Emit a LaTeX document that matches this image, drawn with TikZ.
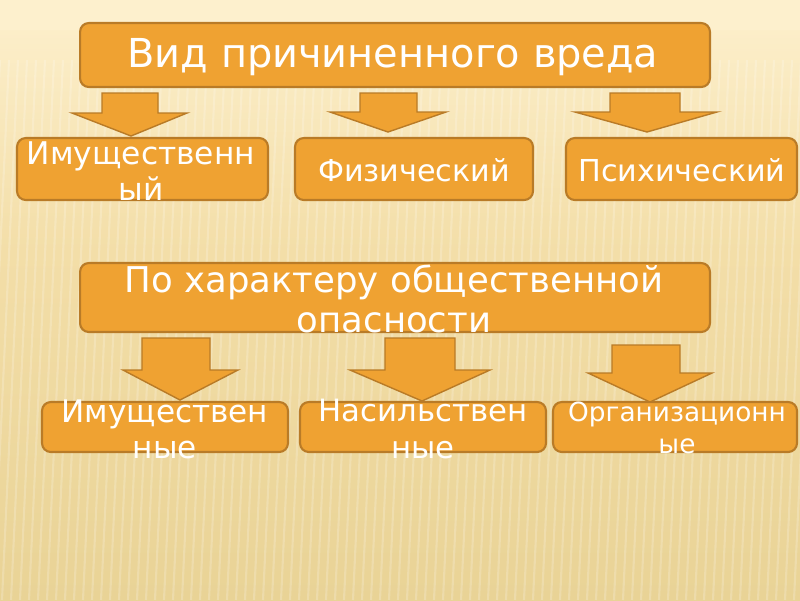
\documentclass[tikz,border=0pt]{standalone}
\usepackage{fontspec}
\setmainfont{DejaVu Sans}
\definecolor{boxfill}{HTML}{EFA232}
\definecolor{boxline}{HTML}{B97B27}
\definecolor{bgtop}{HTML}{FDF0CD}
\definecolor{bgmid}{HTML}{F3DEA8}
\definecolor{bgbot}{HTML}{E9D396}
\tikzset{
  box/.style={draw=boxline,line width=1.2pt,fill=boxfill,rounded corners=5pt,inner sep=0pt},
  boxtext/.style={text=white,align=center,inner sep=0pt},
  blockarrow/.style={draw=boxline,line width=0.8pt,fill=boxfill,line join=miter}
}
\begin{document}
\begin{tikzpicture}[x=0.02cm,y=-0.02cm]
      % background
      \useasboundingbox (0,0) rectangle (800,600);
      \shade[top color=bgtop,bottom color=bgmid] (0,0) rectangle (800,250);
      \shade[top color=bgmid,bottom color=bgbot] (0,250) rectangle (800,600);
      \fill[bgtop] (0,0) rectangle (800,30);
      \foreach \i in {0,9,...,840}
        \draw[white,opacity=0.2,line width=1.2pt] (\i,60) -- (\i-25,600);
      % boxes
      \node[box,minimum width=12.6cm,minimum height=1.28cm] (vid) at (395,55) {};
      \node[box,minimum width=5.02cm,minimum height=1.24cm] (imu1) at (142.5,169) {};
      \node[box,minimum width=4.76cm,minimum height=1.24cm] (fiz) at (414,169) {};
      \node[box,minimum width=4.62cm,minimum height=1.24cm] (psi) at (681.5,169) {};
      \node[box,minimum width=12.6cm,minimum height=1.38cm] (har) at (395,297.5) {};
      \node[box,minimum width=4.92cm,minimum height=1.0cm] (imu2) at (165,427) {};
      \node[box,minimum width=4.92cm,minimum height=1.0cm] (nas) at (423,427) {};
      \node[box,minimum width=4.88cm,minimum height=1.0cm] (org) at (675,427) {};
      % arrows
      \draw[blockarrow] (102,93)--(158,93)--(158,113)--(187,113)--(131,136)--(72,113)--(102,113)--cycle;
      \draw[blockarrow] (360,93)--(417,93)--(417,112)--(446,112)--(388,132)--(330,112)--(360,112)--cycle;
      \draw[blockarrow] (610,93)--(680,93)--(680,112)--(717,112)--(647,132)--(575,112)--(610,112)--cycle;
      \draw[blockarrow] (142,338)--(210,338)--(210,370)--(238,370)--(180,400)--(123,370)--(142,370)--cycle;
      \draw[blockarrow] (385,338)--(455,338)--(455,370)--(490,370)--(422,401)--(350,370)--(385,370)--cycle;
      \draw[blockarrow] (612,345)--(680,345)--(680,373)--(712,373)--(650,402)--(588,373)--(612,373)--cycle;
      % texts
      \node[boxtext,font=\fontsize{22.7}{27}\selectfont] (vidt) at (393,57) {Вид причиненного вреда};
      \node[boxtext,font=\fontsize{17.8}{20.5}\selectfont] (imu1t) at (141,171) {Имущественн\\ый};
      \node[boxtext,font=\fontsize{17.2}{20.5}\selectfont] (fizt) at (414,170) {Физический};
      \node[boxtext,font=\fontsize{17.2}{20.5}\selectfont] (psit) at (682,170) {Психический};
      \node[boxtext,font=\fontsize{20.2}{23}\selectfont] (hart) at (394,299) {По характеру общественной\\опасности};
      \node[boxtext,font=\fontsize{17.7}{20.5}\selectfont] (imu2t) at (165,429) {Имуществен\\ные};
      \node[boxtext,font=\fontsize{17.5}{20.5}\selectfont] (nast) at (423,429) {Насильствен\\ные};
      \node[boxtext,font=\fontsize{15}{18}\selectfont] (orgt) at (677,428) {Организационн\\ые};
\end{tikzpicture}
\end{document}
